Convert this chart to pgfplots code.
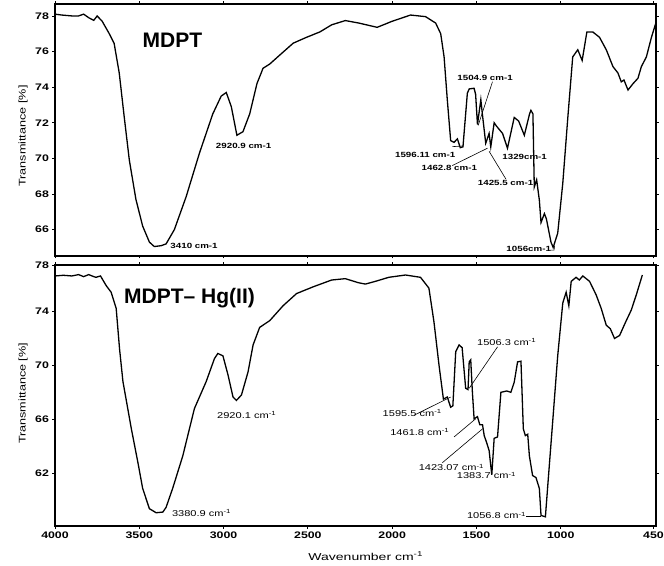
\documentclass[border=0pt]{standalone}
\usepackage{fontspec}
\setmainfont{Liberation Sans}
\newfontfamily\wide[FakeStretch=1.3]{Liberation Sans}
\newfontfamily\wider[FakeStretch=1.4]{Liberation Sans}
\usepackage{pgfplots}
\pgfplotsset{compat=1.18}
\pgfplotstableread{
w v
4000 78.1
3960 78.05
3900 78.0
3860 78.0
3830 78.1
3800 77.9
3770 77.75
3750 78.0
3720 77.7
3678 77.0
3649 76.45
3619 74.8
3589 72.3
3559 69.9
3520 67.7
3480 66.2
3440 65.3
3411 65.05
3370 65.1
3341 65.2
3292 66.0
3222 67.85
3143 70.3
3064 72.5
3014 73.5
2984 73.7
2954 72.9
2921 71.3
2885 71.5
2845 72.5
2802 74.2
2766 75.06
2726 75.3
2667 75.8
2587 76.47
2508 76.8
2429 77.1
2359 77.5
2278 77.74
2198 77.6
2089 77.36
2000 77.7
1891 78.05
1802 77.96
1742 77.6
1712 77.0
1692 75.7
1673 73.3
1653 71.0
1633 70.9
1613 71.1
1596 70.6
1580 70.65
1554 73.66
1543 73.9
1514 73.94
1505 73.6
1494 71.9
1474 73.3
1465 72.5
1445 70.85
1425 71.4
1415 70.65
1395 72.0
1380 71.8
1345 71.4
1316 70.57
1276 72.3
1250 72.1
1216 71.3
1185 72.5
1177 72.7
1165 72.5
1157 68.4
1143 68.8
1127 67.66
1117 66.4
1097 66.9
1085 66.6
1058 65.3
1045 65.0
1018 65.8
988 68.6
958 72.3
929 75.7
899 76.1
873 75.5
845 77.1
810 77.1
770 76.8
730 76.1
690 75.15
661 74.8
641 74.3
625 74.4
601 73.84
571 74.2
542 74.5
522 75.15
492 75.7
462 76.8
436 77.6
}\topdata
\pgfplotstableread{
w v
4000 76.6
3950 76.65
3900 76.6
3860 76.7
3830 76.55
3800 76.7
3770 76.55
3757 76.5
3730 76.6
3697 75.9
3667 75.4
3637 74.2
3617 71.2
3597 68.8
3547 65.3
3508 62.8
3480 60.9
3440 59.4
3400 59.1
3360 59.15
3341 59.5
3302 60.9
3242 63.3
3173 66.8
3103 68.8
3054 70.5
3034 70.87
3004 70.7
2974 69.3
2944 67.65
2924 67.4
2894 67.8
2855 69.5
2825 71.5
2786 72.8
2726 73.3
2647 74.4
2567 75.3
2468 75.8
2359 76.3
2278 76.4
2200 76.1
2159 76.0
2100 76.2
2020 76.5
1921 76.67
1832 76.5
1782 75.7
1752 73.2
1722 70.0
1696 67.5
1673 67.65
1653 66.9
1640 67.0
1623 71.0
1603 71.5
1585 71.3
1564 68.3
1550 68.2
1543 70.25
1534 70.4
1524 68.0
1514 66.05
1494 66.2
1480 65.6
1464 65.6
1454 64.8
1440 64.3
1425 63.7
1409 61.9
1395 64.6
1375 64.7
1355 68.0
1320 68.1
1296 68.0
1276 68.75
1256 70.25
1236 70.3
1222 65.3
1210 64.8
1196 64.9
1186 63.3
1167 61.85
1147 61.7
1127 60.9
1117 58.9
1091 58.8
1077 61.1
1048 65.8
1018 70.7
988 74.6
968 75.4
952 74.4
938 76.2
909 76.5
890 76.3
869 76.6
829 76.2
790 75.2
760 74.2
730 72.96
706 72.7
681 71.98
665 72.1
651 72.2
615 73.2
582 74.07
552 75.2
516 76.67
}\botdata
\tikzset{
  ann/.style={font=\wide\bfseries\fontsize{7.5}{9}\selectfont, inner sep=0.5pt},
  annb/.style={font=\wide\fontsize{8.5}{10}\selectfont, inner sep=0.5pt},
}
\pgfplotsset{
  ir/.style={
    scale only axis, width=601pt, x dir=reverse, xmin=435, xmax=4000,
    xtick={4000,3500,3000,2500,2000,1500,1000,450},
    tick align=outside, major tick length=2.5pt,
    axis line style={line width=1.2pt},
    every tick/.style={black, line width=0.8pt},
    /pgf/number format/assume math mode=true,
    tick label style={font=\wide\bfseries\fontsize{9.5}{11}\selectfont},
    ylabel={Transmittance [\%]},
    clip=false,
  },
}
\begin{document}
\begin{tikzpicture}[x=1pt,y=1pt]
\useasboundingbox (0,0) rectangle (664,565);
% top panel
\begin{axis}[ir, at={(55pt,309pt)}, anchor=south west, height=252pt,
  ymin=64.52, ymax=78.67, ytick={66,68,70,72,74,76,78}, xticklabels={},
  ylabel style={font=\wide\fontsize{9.7}{12}\selectfont, at={(axis description cs:-0.053,0.476)}, anchor=center}]
\addplot[black, line width=1.3pt] table[x=w,y=v] {\topdata};
\draw[line width=2.6pt] (rel axis cs:0,1) -- (rel axis cs:1,1);
\node[font=\fontsize{21}{24}\bfseries] at (axis cs:3303,76.65) {MDPT};
\node[ann] at (axis cs:3175,65.1) {3410 cm-1};
\node[ann] at (axis cs:2881,70.7) {2920.9 cm-1};
\node[ann] at (axis cs:1449,74.5) {1504.9 cm-1};
\draw[line width=0.6pt] (axis cs:1405,74.3) -- (axis cs:1490,71.85);
\node[ann] at (axis cs:1804,70.2) {1596.11 cm-1};
\draw[line width=0.6pt] (axis cs:1643,70.66) -- (axis cs:1577,70.7);
\node[ann] at (axis cs:1661,69.44) {1462.8 cm-1};
\draw[line width=0.6pt] (axis cs:1643,69.6) -- (axis cs:1435,70.57);
\node[ann] at (axis cs:1327,68.63) {1425.5 cm-1};
\draw[line width=0.6pt] (axis cs:1425,70.4) -- (axis cs:1326,68.85);
\node[ann] at (axis cs:1214,70.1) {1329cm-1};
\node[ann] at (axis cs:1190,64.9) {1056cm-1};
\draw[line width=0.6pt] (axis cs:1068,64.85) -- (axis cs:1040,64.85) -- (axis cs:1036,65.1);
\end{axis}
% bottom panel
\begin{axis}[ir, at={(55pt,39pt)}, anchor=south west, height=261pt,
  ymin=58.12, ymax=77.41, ytick={62,66,70,74,77.41}, yticklabels={62,66,70,74,78},
  xticklabels={4000,3500,3000,2500,2000,1500,1000,450},
  ylabel style={font=\wide\fontsize{9.7}{12}\selectfont, at={(axis description cs:-0.053,0.508)}, anchor=center},
  xlabel={Wavenumber cm\textsuperscript{-1}},
  xlabel style={font=\wider\fontsize{10}{12}\selectfont, at={(axis description cs:0.517,-0.115)}, anchor=center}]
\addplot[black, line width=1.3pt] table[x=w,y=v] {\botdata};
\node[font=\fontsize{21}{24}\bfseries] at (axis cs:3202,74.96) {MDPT-- Hg(II)};
\node[annb] at (axis cs:3131,59.1) {3380.9 cm\textsuperscript{-1}};
\node[annb] at (axis cs:2863,66.3) {2920.1 cm\textsuperscript{-1}};
\node[annb] at (axis cs:1321,71.7) {1506.3 cm\textsuperscript{-1}};
\draw[line width=0.6pt] (axis cs:1375,71.36) -- (axis cs:1543,68.3);
\node[annb] at (axis cs:1881,66.5) {1595.5 cm\textsuperscript{-1}};
\draw[line width=0.6pt] (axis cs:1871,66.3) -- (axis cs:1653,67.65);
\node[annb] at (axis cs:1836,65.04) {1461.8 cm\textsuperscript{-1}};
\draw[line width=0.6pt] (axis cs:1633,64.7) -- (axis cs:1504,66.05);
\node[annb] at (axis cs:1649,62.45) {1423.07 cm\textsuperscript{-1}};
\draw[line width=0.6pt] (axis cs:1702,62.8) -- (axis cs:1464,65.3);
\node[annb] at (axis cs:1441,61.85) {1383.7 cm\textsuperscript{-1}};
\node[annb] at (axis cs:1381,58.9) {1056.8 cm\textsuperscript{-1}};
\draw[line width=0.6pt] (axis cs:1206,58.8) -- (axis cs:1117,58.8);
\end{axis}
\end{tikzpicture}
\end{document}
